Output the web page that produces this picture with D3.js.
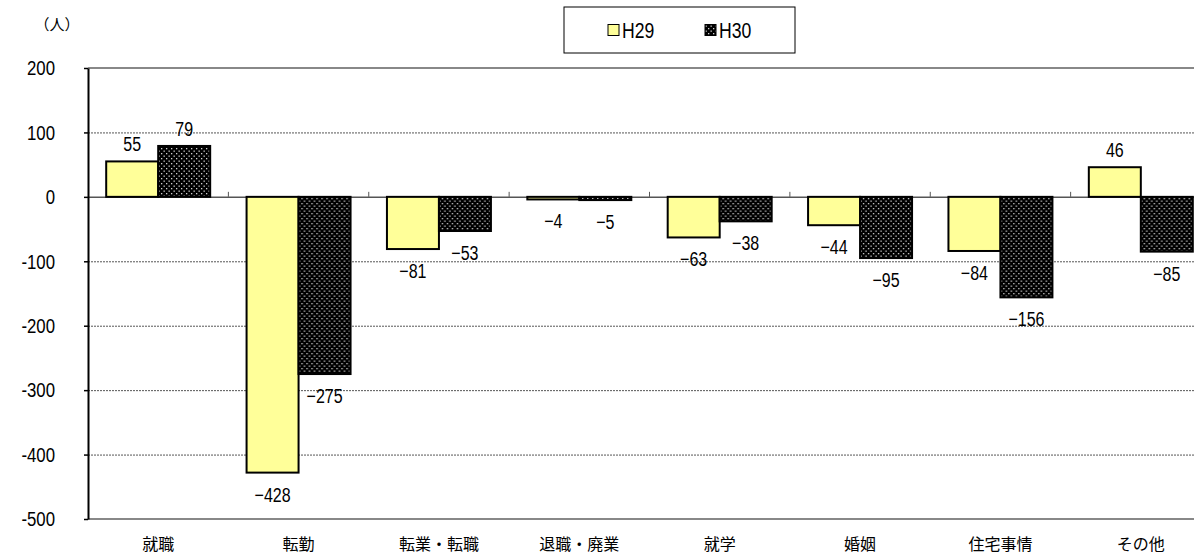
<!DOCTYPE html>
<html>
<head>
<meta charset="utf-8">
<title></title>
<style>
*{margin:0;padding:0;}
html,body{width:100%;height:100%;background:#fff;}
svg{display:block;}
</style>
</head>
<body>
<script src="https://cdn.jsdelivr.net/npm/d3@7"></script>
<script>
// 転居理由別の社会増減
var categories = ["就職","転勤","転業・転職","退職・廃業","就学","婚姻","住宅事情","その他"];
var seriesNames = ["H29","H30"];
var h29 = [55,-428,-81,-4,-63,-44,-84,46];
var h30 = [79,-275,-53,-5,-38,-95,-156,-85];
var yTicks = [200,100,0,-100,-200,-300,-400,-500];

var width = 1194, height = 555;
var margin = {top:68, right:-17, bottom:36, left:88};

var numFont = "'Liberation Sans',sans-serif";
var jpFont = "'Noto Sans CJK JP',sans-serif";
var narrow = 0.8; // 数字は横長を詰める

var svg = d3.select("body").append("svg")
	.attr("width", width)
	.attr("height", height);

// ドットの網掛け
var defs = svg.append("defs");
var pat = defs.append("pattern")
	.attr("id","dots")
	.attr("patternUnits","userSpaceOnUse")
	.attr("width",5).attr("height",5);
pat.append("rect").attr("width",5).attr("height",5).attr("fill","#000");
pat.append("rect").attr("x",0.5).attr("y",0.5).attr("width",1.3).attr("height",1.3).attr("fill","#d0d0d0");
pat.append("rect").attr("x",3).attr("y",3).attr("width",1.3).attr("height",1.3).attr("fill","#d0d0d0");

var fills = {H29:"#ffff99", H30:"url(#dots)"};

var data = categories.map((c,i)=>({name:c, H29:h29[i], H30:h30[i]}));

var x = d3.scaleBand()
	.domain(categories)
	.range([margin.left, width - margin.right])
	.paddingInner(0)
	.paddingOuter(0);

var x1 = d3.scaleBand()
	.domain(seriesNames)
	.range([0, x.bandwidth()])
	.paddingOuter(0.35)
	.paddingInner(0);

var y = d3.scaleLinear()
	.domain([-500,200])
	.range([height - margin.bottom, margin.top]);

// 目盛線
svg.append("g")
	.selectAll("line")
	.data(yTicks.filter(d=>d!==0 && d!==200 && d!==-500))
	.join("line")
	.attr("x1",margin.left).attr("x2",width)
	.attr("y1",d=>y(d)+0.5).attr("y2",d=>y(d)+0.5)
	.attr("stroke","#555")
	.attr("stroke-width",1)
	.attr("stroke-dasharray","2,1");

// 枠線(上・下)
svg.append("line")
	.attr("x1",margin.left).attr("x2",width)
	.attr("y1",y(200)).attr("y2",y(200))
	.attr("stroke","#888").attr("stroke-width",2);
svg.append("line")
	.attr("x1",margin.left).attr("x2",width)
	.attr("y1",y(-500)).attr("y2",y(-500))
	.attr("stroke","#888").attr("stroke-width",2);

// 0の線と目盛
var zeroAxis = svg.append("g")
	.attr("transform",`translate(0,${y(0)})`)
	.call(d3.axisBottom(x).tickSize(-5).tickFormat("").tickSizeOuter(0));
zeroAxis.select(".domain").attr("stroke","#555").attr("stroke-width",1.5);
zeroAxis.selectAll(".tick line")
	.attr("transform",`translate(${-x.bandwidth()/2},0)`)
	.attr("stroke","#555");
zeroAxis.selectAll(".tick").filter((d,i)=>i===0).remove();

// 棒
svg.append("g")
	.selectAll("g")
	.data(data)
	.join("g")
	.attr("transform",d=>`translate(${x(d.name)},0)`)
	.selectAll("rect")
	.data(d=>seriesNames.map(k=>({key:k, value:d[k]})))
	.join("rect")
	.attr("x",d=>x1(d.key))
	.attr("y",d=>y(Math.max(0,d.value)))
	.attr("width",x1.bandwidth())
	.attr("height",d=>Math.abs(y(d.value)-y(0)))
	.attr("fill",d=>fills[d.key])
	.attr("stroke","#000")
	.attr("stroke-width",2);

// y軸
var yAxis = svg.append("g")
	.attr("transform",`translate(${margin.left},0)`)
	.call(d3.axisLeft(y).tickValues(yTicks).tickSize(4).tickSizeOuter(0)
		.tickFormat(d=>String(d)));
yAxis.select(".domain").attr("stroke","#000").attr("stroke-width",2);
yAxis.selectAll(".tick line").attr("stroke","#000").attr("stroke-width",1.5);
yAxis.selectAll("text")
	.attr("x",-33/narrow)
	.attr("transform",`scale(${narrow},1)`)
	.attr("font-family",numFont)
	.attr("font-size",21)
	.attr("fill","#000");

// x軸ラベル
svg.append("g")
	.selectAll("text")
	.data(categories)
	.join("text")
	.attr("x",d=>x(d)+x.bandwidth()/2)
	.attr("y",height-5)
	.attr("text-anchor","middle")
	.attr("font-family",jpFont)
	.attr("font-size",16)
	.text(d=>d);

// データラベル
var labels = [];
data.forEach(d=>{
	seriesNames.forEach(k=>{
		labels.push({name:d.name, key:k, value:d[k]});
	});
});
svg.append("g")
	.selectAll("g")
	.data(labels)
	.join("g")
	.attr("transform",d=>{
		var lx = x(d.name)+x1(d.key)+x1.bandwidth()/2;
		var ly = d.value>=0 ? y(d.value)-17 : y(d.value)+22;
		return `translate(${lx},${ly}) scale(${narrow},1)`;
	})
	.append("text")
	.attr("dy","0.35em")
	.attr("text-anchor","middle")
	.attr("font-family",numFont)
	.attr("font-size",20)
	.attr("fill","#000")
	.text(d=>d.value<0 ? "−"+Math.abs(d.value) : d.value);

// 単位
svg.append("text")
	.attr("x",57)
	.attr("y",30)
	.attr("text-anchor","middle")
	.attr("font-family",jpFont)
	.attr("font-size",15)
	.text("（人）");

// 凡例
var legend = svg.append("g").attr("transform","translate(564,7)");
legend.append("rect")
	.attr("width",231).attr("height",46)
	.attr("fill","#fff").attr("stroke","#000").attr("stroke-width",1);
var li = legend.selectAll("g")
	.data(seriesNames)
	.join("g")
	.attr("transform",(d,i)=>`translate(${44+i*97},23)`);
li.append("rect")
	.attr("x",0).attr("y",-5.5)
	.attr("width",11).attr("height",11)
	.attr("fill",d=>fills[d])
	.attr("stroke","#000").attr("stroke-width",1);
li.append("text")
	.attr("x",14/narrow)
	.attr("dy","0.35em")
	.attr("transform",`scale(${narrow},1)`)
	.attr("font-family",numFont)
	.attr("font-size",22)
	.text(d=>d);
</script>
</body>
</html>
